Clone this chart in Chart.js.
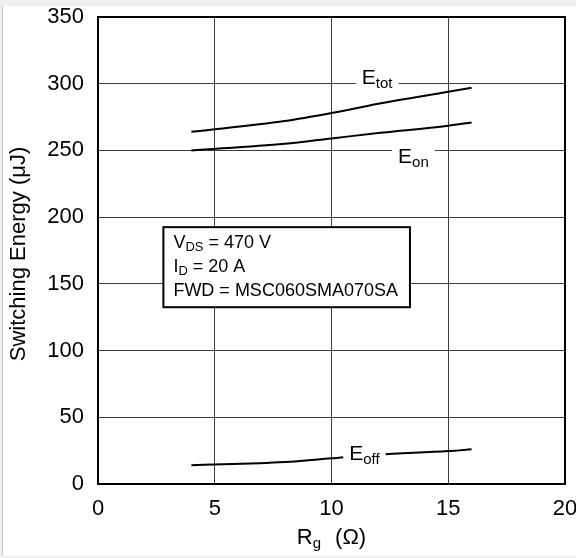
<!DOCTYPE html>
<html>
<head>
<meta charset="utf-8">
<script src="https://cdn.jsdelivr.net/npm/chart.js@4"></script>
<style>
html,body{margin:0;padding:0;background:#f0f0f0;}
canvas{display:block;}
</style>
</head>
<body>
<canvas id="c" width="576" height="558"></canvas>
<script>
const rg = [4, 8, 10, 12, 15, 16];
const eTot = [264, 272, 278, 285, 294, 297];
const eOn = [250, 255, 259, 263, 268.5, 271];
const eOff = [14, 16.5, 19.3, 22, 24.7, 26];
const xTicks = [0, 5, 10, 15, 20];
const yTicks = [0, 50, 100, 150, 200, 250, 300, 350];
const conditions = [
  ["V", "DS", " = 470 V"],
  ["I", "D", " = 20 A"],
  ["FWD = MSC060SMA070SA", "", ""]
];
const curveLabels = [
  {main: "E", sub: "tot", x: 11.3, y: 300},
  {main: "E", sub: "on", x: 12.85, y: 240.5},
  {main: "E", sub: "off", x: 10.76, y: 18}
];

const FONT = '"Liberation Sans", Arial, sans-serif';
const toPts = (ys) => ys.map((v, i) => ({x: rg[i], y: v}));

function drawSub(ctx, x, y, main, sub, rest, size, subSize, subDrop) {
  ctx.font = size + 'px ' + FONT;
  ctx.fillText(main, x, y);
  let w = ctx.measureText(main).width;
  if (sub) {
    ctx.font = subSize + 'px ' + FONT;
    ctx.fillText(sub, x + w, y + subDrop);
    w += ctx.measureText(sub).width;
  }
  if (rest) {
    ctx.font = size + 'px ' + FONT;
    ctx.fillText(rest, x + w, y);
    w += ctx.measureText(rest).width;
  }
  return w;
}

const decor = {
  id: 'decor',
  beforeDraw(chart) {
    const ctx = chart.ctx;
    ctx.save();
    ctx.fillStyle = '#f0f0f0';
    ctx.fillRect(0, 0, chart.width, chart.height);
    ctx.fillStyle = '#ffffff';
    ctx.fillRect(3, 6, chart.width - 3, 550);
    ctx.fillStyle = '#c8c8c8';
    ctx.fillRect(2, 6, 1, 550);
    ctx.restore();
  },
  afterDatasetsDraw(chart) {
    const ctx = chart.ctx;
    const xs = chart.scales.x, ys = chart.scales.y;
    ctx.save();
    ctx.textBaseline = 'alphabetic';
    ctx.textAlign = 'left';
    curveLabels.forEach(l => {
      const px = xs.getPixelForValue(l.x);
      const py = ys.getPixelForValue(l.y);
      ctx.font = '21px ' + FONT;
      let w = ctx.measureText(l.main).width;
      ctx.font = '15px ' + FONT;
      w += ctx.measureText(l.sub).width;
      ctx.fillStyle = '#ffffff';
      ctx.fillRect(px - 6, py - 19, w + 12, 27);
      ctx.fillStyle = '#000000';
      drawSub(ctx, px, py, l.main, l.sub, '', 21, 15, 4);
    });
    const bx0 = xs.getPixelForValue(2.8), bx1 = xs.getPixelForValue(13.36);
    const by0 = ys.getPixelForValue(192.5), by1 = ys.getPixelForValue(132.5);
    ctx.fillStyle = '#ffffff';
    ctx.fillRect(bx0, by0, bx1 - bx0, by1 - by0);
    ctx.strokeStyle = '#000000';
    ctx.lineWidth = 2;
    ctx.strokeRect(bx0, by0, bx1 - bx0, by1 - by0);
    ctx.fillStyle = '#000000';
    conditions.forEach((c, i) => {
      drawSub(ctx, bx0 + 10, by0 + 21 + i * 24, c[0], c[1], c[2], 18, 13, 3);
    });
    ctx.restore();
  },
  afterDraw(chart) {
    const ctx = chart.ctx;
    const a = chart.chartArea;
    ctx.save();
    ctx.strokeStyle = '#000000';
    ctx.lineWidth = 2;
    ctx.strokeRect(a.left, a.top, a.right - a.left, a.bottom - a.top);
    ctx.fillStyle = '#000000';
    ctx.textBaseline = 'alphabetic';
    ctx.textAlign = 'left';
    ctx.font = '22px ' + FONT;
    const wR = ctx.measureText('R').width;
    ctx.font = '15px ' + FONT;
    const wg = ctx.measureText('g').width;
    ctx.font = '22px ' + FONT;
    const wP = ctx.measureText('(Ω)').width;
    const gap = 14;
    const total = wR + wg + gap + wP;
    const cx = (a.left + a.right) / 2;
    const x0 = cx - total / 2;
    drawSub(ctx, x0, 544, 'R', 'g', '', 22, 15, 4);
    ctx.font = '22px ' + FONT;
    ctx.fillText('(Ω)', x0 + wR + wg + gap, 544);
    ctx.translate(25, 254);
    ctx.rotate(-Math.PI / 2);
    ctx.textAlign = 'center';
    ctx.font = '22px ' + FONT;
    ctx.fillText('Switching Energy (μJ)', 0, 0);
    ctx.restore();
  }
};

const lineStyle = {
  borderColor: '#000000',
  borderWidth: 2,
  pointRadius: 0,
  fill: false,
  cubicInterpolationMode: 'monotone'
};

new Chart(document.getElementById('c'), {
  type: 'line',
  data: {
    datasets: [
      Object.assign({label: 'Etot', data: toPts(eTot)}, lineStyle),
      Object.assign({label: 'Eon', data: toPts(eOn)}, lineStyle),
      Object.assign({label: 'Eoff', data: toPts(eOff)}, lineStyle)
    ]
  },
  options: {
    responsive: false,
    devicePixelRatio: 1,
    animation: false,
    layout: {padding: {left: 0, top: 17, right: 11, bottom: 0}},
    plugins: {legend: {display: false}, tooltip: {enabled: false}},
    scales: {
      x: {
        type: 'linear', min: 0, max: 20,
        afterBuildTicks: s => { s.ticks = xTicks.map(v => ({value: v})); },
        afterFit: s => { s.height = 74; s.paddingLeft = 0; s.paddingRight = 0; },
        grid: {color: '#3c3c3c', lineWidth: 1, drawTicks: false},
        border: {display: false},
        ticks: {color: '#000000', padding: 12, font: {family: FONT, size: 22}, maxRotation: 0, autoSkip: false}
      },
      y: {
        type: 'linear', min: 0, max: 350,
        afterBuildTicks: s => { s.ticks = yTicks.map(v => ({value: v})); },
        afterFit: s => { s.width = 98; s.paddingTop = 0; s.paddingBottom = 0; },
        grid: {color: '#3c3c3c', lineWidth: 1, drawTicks: false},
        border: {display: false},
        ticks: {color: '#000000', padding: 14, font: {family: FONT, size: 22}, autoSkip: false}
      }
    }
  },
  plugins: [decor]
});
</script>
</body>
</html>
